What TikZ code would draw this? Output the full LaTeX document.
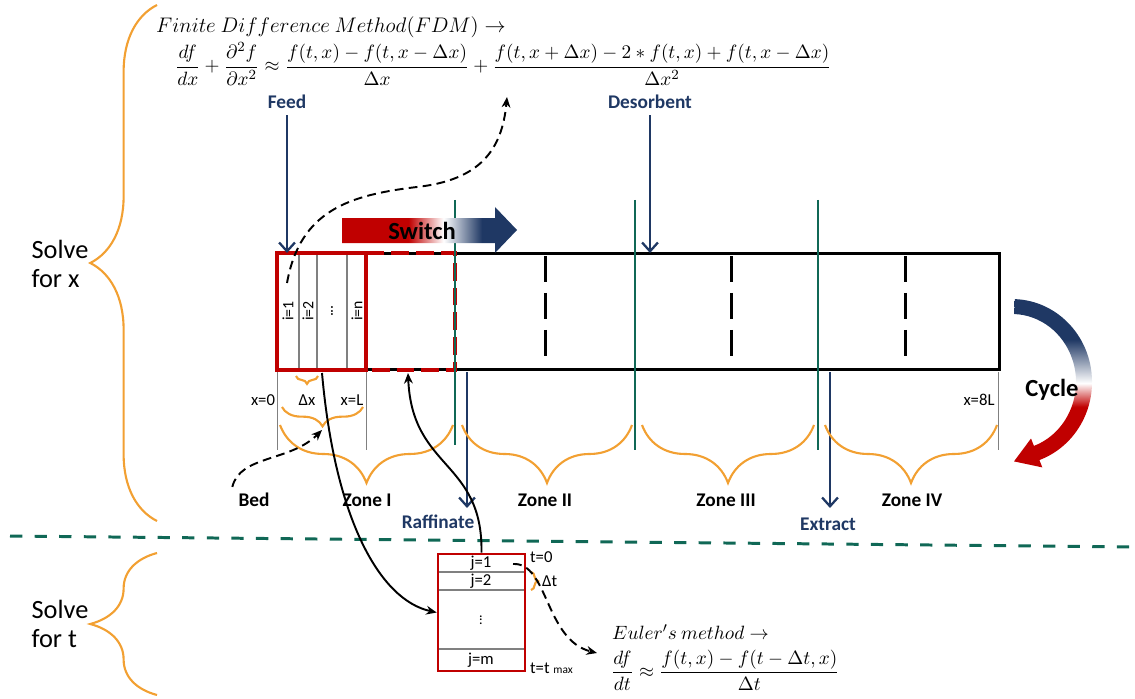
\documentclass[tikz,border=0pt]{standalone}
\usepackage{amsmath}
\usepackage{fontspec}
\setmainfont{Carlito}
\usetikzlibrary{decorations.pathreplacing,arrows.meta}

\definecolor{navy}{RGB}{31,56,100}
\definecolor{colred}{RGB}{192,0,0}
\definecolor{braceor}{RGB}{242,160,50}
\definecolor{zoneteal}{RGB}{16,104,86}

\pgfdeclarehorizontalshading{switchshade}{100bp}{color(0bp)=(colred); color(44bp)=(colred); color(54bp)=(white); color(65bp)=(navy); color(100bp)=(navy)}
\pgfdeclareverticalshading{cycleshade}{100bp}{color(0bp)=(colred); color(43bp)=(colred); color(50bp)=(white); color(63bp)=(navy); color(100bp)=(navy)}

\tikzset{
  brc/.style={braceor, line width=1.2pt, decorate, decoration={brace, amplitude=#1}},
  port/.style={navy, line width=1.3pt, -{Straight Barb[length=5pt,width=9pt]}},
  portlbl/.style={text=navy, font=\bfseries\fontsize{11}{13}\selectfont},
  zonelbl/.style={font=\bfseries\fontsize{11}{13}\selectfont},
  side/.style={align=left, font=\fontsize{15}{17}\selectfont},
  swline/.style={zoneteal, line width=1.6pt},
  tick/.style={gray, line width=0.5pt},
  cell/.style={font=\fontsize{9}{10}\selectfont, rotate=90},
  small/.style={font=\fontsize{9.5}{11}\selectfont, inner sep=1pt},
  eqn/.style={anchor=west, font=\fontsize{11}{13}\selectfont},
  link/.style={line width=1.1pt, -{Stealth[length=6pt,width=5pt]}},
  dashlink/.style={link, dash pattern=on 5pt off 3pt}
}

\begin{document}
\begin{tikzpicture}[x=0.02cm, y=-0.02cm]
  \useasboundingbox (0,0) rectangle (1135,699);

  % what is solved for
  \node[side] (solvex) at (60,264) {Solve\\for x};
  \draw[brc=38pt] (157,521) -- (157,5);
  \node[side] (solvet) at (60,624) {Solve\\for t};
  \draw[brc=38pt] (157,695) -- (157,553);
  \draw[zoneteal, line width=1.7pt, dash pattern=on 7pt off 7pt] (10,536) -- (1135,547);

  % finite differences in x
  \node[eqn, font=\fontsize{12}{14}\selectfont] (fdmtitle) at (150,27) {$Finite\ Difference\ Method(FDM)\rightarrow$};
  \node[eqn] (fdm) at (169,64) {$\displaystyle\frac{df}{dx}+\frac{\partial^2 f}{\partial x^2}\approx\frac{f(t,x)-f(t,x-\Delta x)}{\Delta x}+\frac{f(t,x+\Delta x)-2*f(t,x)+f(t,x-\Delta x)}{\Delta x^2}$};

  % the column
  \node[draw, line width=1.7pt, minimum width=14.46cm, minimum height=2.34cm, inner sep=0pt] (col) at (638.5,311.5) {};
  \foreach \x in {299,317,347}
    \draw[gray, line width=0.6pt] (\x,254) -- (\x,369);
  \draw[colred, line width=1.8pt] (277,253) rectangle (366,370);
  \draw[colred, line width=1.8pt, dash pattern=on 10pt off 4pt] (366,253) rectangle (455,370);
  \node[cell] (i1) at (288,311) {i=1};
  \node[cell] (i2) at (308,311) {i=2};
  \node[cell] (idots) at (332,311) {...};
  \node[cell] (in) at (357,311) {i=n};
  \foreach \x in {545,731,905}
    \draw[line width=1.7pt, dash pattern=on 15pt off 6pt] (\x,256) -- (\x,357);
  \foreach \x/\yb in {455/445,635/450,818/450}
    \draw[swline] (\x,200) -- (\x,\yb);

  % switch
  \shade[shading=switchshade] (342,218) -- (495,218) -- (495,207) -- (517,230)
    -- (495,253) -- (495,243) -- (342,243) -- cycle;
  \node[font=\bfseries\fontsize{14}{16}\selectfont] (switch) at (422,231) {Switch};

  % inlets and outlets
  \node[portlbl] (feed) at (287,102) {Feed};
  \coordinate (feedin) at (287,253);
  \draw[port] (feed) -- (feedin);
  \node[portlbl] (desorb) at (650,102) {Desorbent};
  \coordinate (desin) at (650,253);
  \draw[port] (desorb) -- (desin);
  \coordinate (raffout) at (467,372);
  \coordinate (raffend) at (467,508);
  \draw[port] (raffout) -- (raffend);
  \node[portlbl] (raff) at (438,522) {Raffinate};
  \coordinate (extout) at (830,372);
  \coordinate (extend) at (830,508);
  \draw[port] (extout) -- (extend);
  \node[portlbl] (extract) at (828,524) {Extract};

  % positions along x
  \foreach \x in {277,366,998}
    \draw[tick] (\x,372) -- (\x,450);
  \node[small] (x0) at (263,400) {x=0};
  \node[small] (dx) at (307,400) {Δx};
  \node[small] (xl) at (352,400) {x=L};
  \node[small] (x8l) at (979,400) {x=8L};
  \draw[brc=4.5pt] (318,376) -- (296,376);
  \draw[brc=11pt] (363,407) -- (282,407);
  \coordinate (bedtip) at (322,430);

  % zones
  \draw[brc=33pt] (453,425) -- (280,425);
  \draw[brc=33pt] (632,425) -- (462,425);
  \draw[brc=33pt] (814,425) -- (642,425);
  \draw[brc=33pt] (997,425) -- (825,425);
  \node[zonelbl] (bed) at (254,500) {Bed};
  \node[zonelbl] (zone1) at (367,500) {Zone I};
  \node[zonelbl] (zone2) at (545,500) {Zone II};
  \node[zonelbl] (zone3) at (726,500) {Zone III};
  \node[zonelbl] (zone4) at (912,500) {Zone IV};

  % cycle
  \shade[shading=cycleshade] (1014.8,299.1) arc[start angle=-88, end angle=70, x radius=80, y radius=83]
    -- (1042.3,467.4) -- (1014,461.4) -- (1031,438.5) -- (1033.9,445.9)
    arc[start angle=70, end angle=-88, x radius=64, y radius=68] -- cycle;
  \node[font=\bfseries\fontsize{14}{16}\selectfont] (cycle) at (1052,390) {Cycle};

  % time steps
  \node[draw=colred, line width=1.5pt, minimum width=1.74cm, minimum height=2.34cm, inner sep=0pt] (jbox) at (481.5,612.5) {};
  \foreach \y in {572,590,649}
    \draw[gray, line width=0.6pt] (439,\y) -- (524,\y);
  \node[small] (j1) at (481,563) {j=1};
  \node[small] (j2) at (481,581) {j=2};
  \node[cell, font=\fontsize{8}{9}\selectfont] (jdots) at (481,620) {...};
  \node[small] (jm) at (481,660) {j=m};
  \node[small, anchor=west] (t0) at (528,557) {t=0};
  \draw[brc=4pt] (531,572) -- (531,590);
  \node[small, anchor=west] (dt) at (540,581) {Δt};
  \node[small, anchor=west] (tmax) at (528,668) {t=t {\fontsize{6.5}{7}\selectfont max}};
  \node[eqn] (eulertitle) at (606,632) {$Euler's\ method\rightarrow$};
  \node[eqn] (euler) at (605,670) {$\displaystyle\frac{df}{dt}\approx\frac{f(t,x)-f(t-\Delta t,x)}{\Delta t}$};

  % links
  \coordinate (cellpt) at (287,283);
  \coordinate (fdmin) at (507,97);
  \draw[dashlink] (cellpt) .. controls (300,210) and (350,195) .. (417,187)
    .. controls (480,180) and (502,150) .. (fdmin);
  \draw[dashlink] (bed.north west) .. controls (240,455) and (290,462) .. (bedtip);
  \coordinate (dxfoot) at (322,373);
  \draw[link] (dxfoot) .. controls (335,520) and (380,600) .. (jbox.west);
  \coordinate (raffbox) at (408,373);
  \draw[link] (jbox.north) .. controls (483,460) and (412,470) .. (raffbox);
  \coordinate (jstart) at (513,564);
  \coordinate (eulerin) at (597,653);
  \draw[dashlink] (jstart) .. controls (548,562) and (545,640) .. (eulerin);
\end{tikzpicture}
\end{document}
